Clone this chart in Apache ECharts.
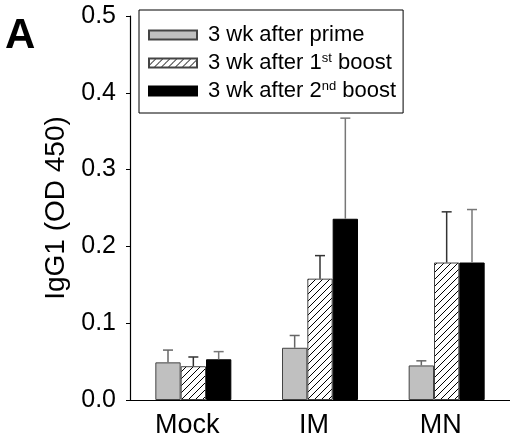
<!DOCTYPE html>
<html>
<head>
<meta charset="utf-8">
<script src="https://cdn.jsdelivr.net/npm/echarts@6/dist/echarts.min.js"></script>
<style>
html,body{margin:0;padding:0;background:#fff;}
#chart{width:510px;height:441px;}
</style>
</head>
<body>
<div id="chart"></div>
<script>
var categories = ['Mock', 'IM', 'MN'];
var seriesNames = ['3 wk after prime', '3 wk after 1st boost', '3 wk after 2nd boost'];
var primeMean = [0.049, 0.068, 0.045];
var primeErr = [0.016, 0.016, 0.006];
var boost1Mean = [0.044, 0.158, 0.179];
var boost1Err = [0.012, 0.030, 0.066];
var boost2Mean = [0.053, 0.236, 0.179];
var boost2Err = [0.010, 0.131, 0.069];
var yTicks = [0, 0.1, 0.2, 0.3, 0.4, 0.5];

var means = [primeMean, boost1Mean, boost2Mean];
var errs = [primeErr, boost1Err, boost2Err];
var FONT = 'Liberation Sans, Arial, sans-serif';

function hatch() {
  var c = document.createElement('canvas');
  c.width = 7; c.height = 7;
  var g = c.getContext('2d');
  g.fillStyle = '#fff';
  g.fillRect(0, 0, 7, 7);
  g.strokeStyle = '#000';
  g.lineWidth = 1;
  g.beginPath();
  g.moveTo(-1, 8); g.lineTo(8, -1);
  g.moveTo(-1, 1); g.lineTo(1, -1);
  g.moveTo(6, 8); g.lineTo(8, 6);
  g.stroke();
  return c;
}

var fills = ['#c0c0c0', {image: hatch(), repeat: 'repeat'}, '#000'];
var borders = ['#444', '#444', '#000'];
var errColors = ['#666', '#333', '#777'];

var chart = echarts.init(document.getElementById('chart'));

var series = [];
seriesNames.forEach(function (name, s) {
  series.push({
    name: name,
    type: 'bar',
    data: means[s],
    barGap: '0%',
    barCategoryGap: '40%',
    itemStyle: {color: fills[s], borderColor: borders[s], borderWidth: 1},
    emphasis: {disabled: true},
    z: 2
  });
});
seriesNames.forEach(function (name, s) {
  series.push({
    type: 'custom',
    silent: true,
    z: 3,
    data: means[s].map(function (m, i) { return [i, m, errs[s][i]]; }),
    renderItem: function (params, api) {
      var i = api.value(0), m = api.value(1), e = api.value(2);
      var p0 = api.coord([i, m]);
      var p1 = api.coord([i, m + e]);
      var band = api.size([1, 0])[0];
      var bw = band * 0.6 / 3;
      var x = p0[0] + (s - 1) * bw;
      var st = {stroke: errColors[s], lineWidth: 1.5};
      return {
        type: 'group',
        children: [
          {type: 'line', shape: {x1: x, y1: p0[1], x2: x, y2: p1[1]}, style: st},
          {type: 'line', shape: {x1: x - 5, y1: p1[1], x2: x + 5, y2: p1[1]}, style: st}
        ]
      };
    }
  });
});

var sup = {fontSize: 13, verticalAlign: 'top', lineHeight: 13, color: '#000', fontFamily: FONT};

chart.setOption({
  animation: false,
  backgroundColor: '#fff',
  title: {
    text: 'A', left: 5, top: 15, padding: 0,
    textStyle: {fontSize: 42, fontWeight: 'bold', color: '#000', fontFamily: FONT}
  },
  legend: {
    data: seriesNames,
    orient: 'vertical',
    left: 139, top: 10,
    padding: [14, 7, 11, 9],
    itemWidth: 48, itemHeight: 9,
    itemGap: 6,
    icon: 'rect',
    borderColor: '#000', borderWidth: 1,
    selectedMode: false,
    formatter: function (n) {
      return n.replace('1st', '1{sup|st}').replace('2nd', '2{sup|nd}');
    },
    textStyle: {
      fontSize: 22, lineHeight: 22, color: '#000', padding: [0, 0, 0, 6],
      fontFamily: FONT,
      rich: {sup: sup}
    }
  },
  grid: {left: 130, top: 16, width: 384, bottom: 41},
  xAxis: {
    type: 'category',
    data: categories,
    boundaryGap: true,
    axisLine: {lineStyle: {color: '#000', width: 1.2}},
    axisTick: {alignWithLabel: true, length: 5, lineStyle: {color: '#000'}},
    axisLabel: {
      color: '#000', fontSize: 27, margin: 12, padding: [0, 12, 0, 0],
      fontFamily: FONT
    }
  },
  yAxis: {
    type: 'value',
    min: yTicks[0], max: yTicks[yTicks.length - 1], interval: 0.1,
    name: 'IgG1 (OD 450)',
    nameLocation: 'middle',
    nameGap: 59,
    nameTextStyle: {fontSize: 28, color: '#000', fontFamily: FONT},
    axisLine: {show: true, lineStyle: {color: '#000', width: 1.2}},
    axisTick: {show: true, length: 4, lineStyle: {color: '#000'}},
    splitLine: {show: false},
    axisLabel: {
      color: '#000', fontSize: 25, margin: 14,
      fontFamily: FONT,
      formatter: function (v) { return v.toFixed(1); }
    }
  },
  series: series
});
</script>
</body>
</html>
